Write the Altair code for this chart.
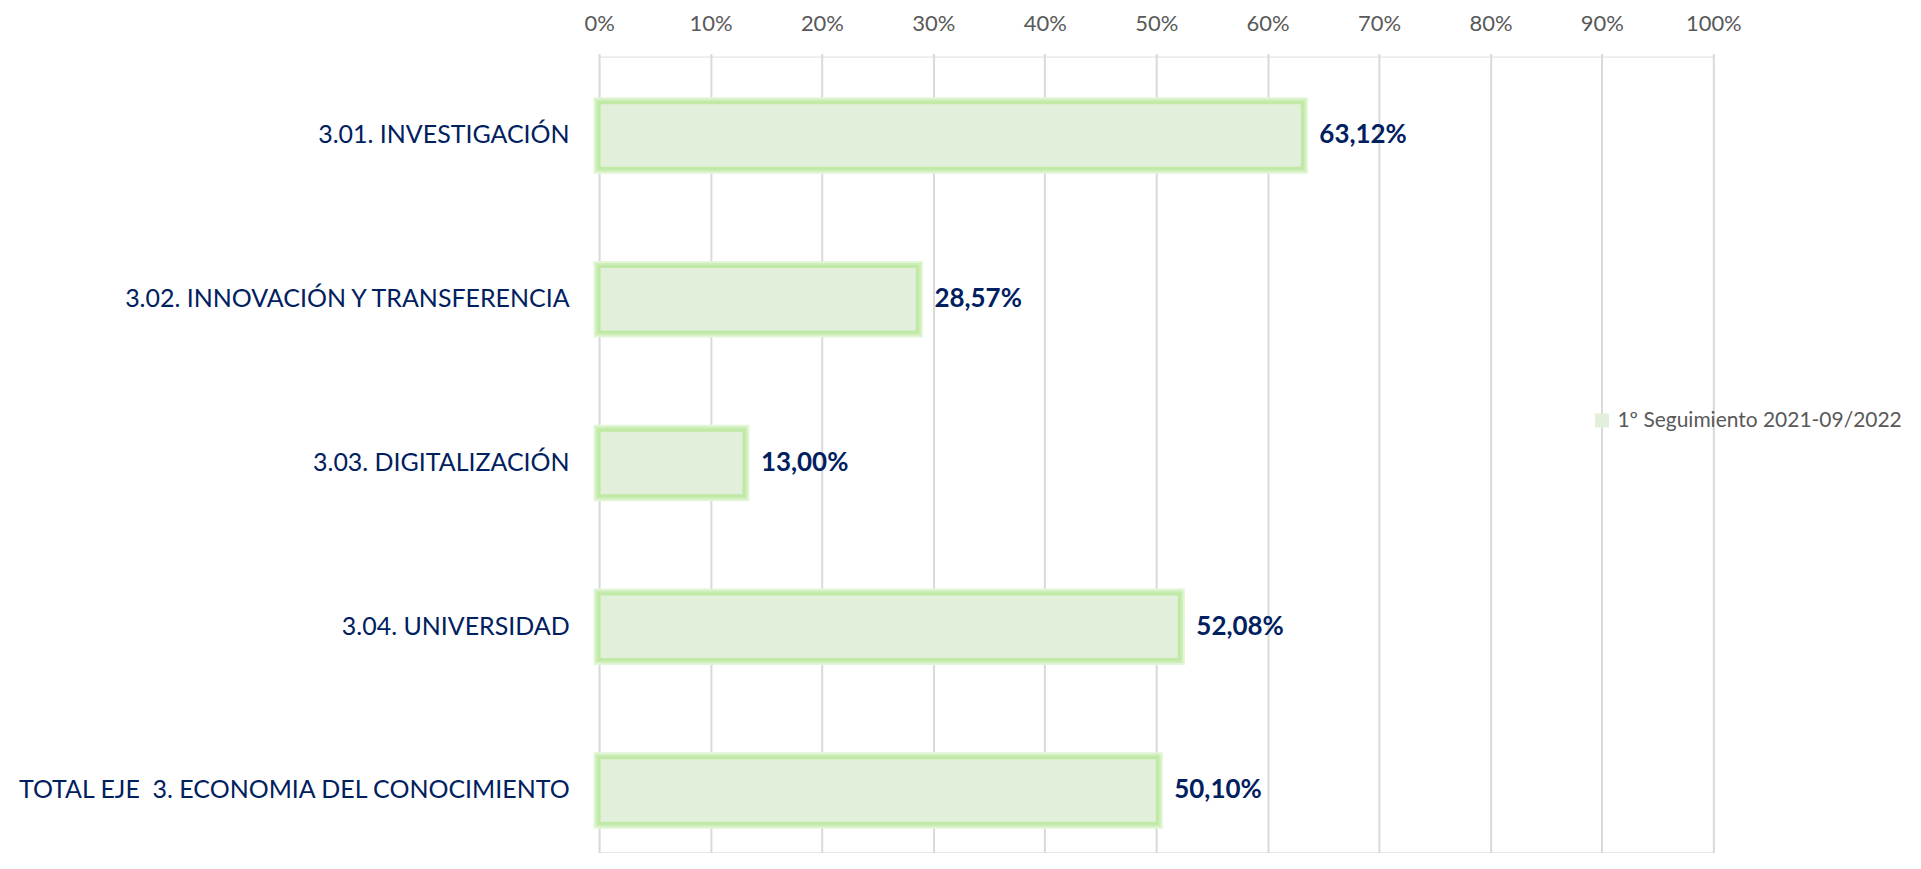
import altair as alt
import pandas as pd

categories = [
    "3.01. INVESTIGACIÓN",
    "3.02. INNOVACIÓN Y TRANSFERENCIA",
    "3.03. DIGITALIZACIÓN",
    "3.04. UNIVERSIDAD",
    "TOTAL EJE \u00a03. ECONOMIA DEL CONOCIMIENTO",
]
values = [0.6312, 0.2857, 0.1300, 0.5208, 0.5010]
series_name = "1º Seguimiento 2021-09/2022"
tick_values = [0, 0.1, 0.2, 0.3, 0.4, 0.5, 0.6, 0.7, 0.8, 0.9, 1.0]

df = pd.DataFrame({
    "cat": categories,
    "val": values,
    "lab": [f"{v * 100:.2f}".replace(".", ",") + "%" for v in values],
    "series": [series_name] * len(categories),
})

NAVY = "#002060"
GRAY = "#595959"

y_enc = alt.Y(
    "cat:N",
    sort=categories,
    title=None,
    scale=alt.Scale(range=[-3, 817], paddingInner=0.6, paddingOuter=0.3),
    axis=alt.Axis(
        domain=False, ticks=False, labelPadding=30,
        labelFont="Lato", labelFontSize=25, labelColor=NAVY, labelLimit=700,
        grid=False,
    ),
)
x_enc = alt.X(
    "val:Q",
    title=None,
    scale=alt.Scale(domain=[0, 1]),
    axis=alt.Axis(
        orient="top", values=tick_values, format=".0%",
        domain=False, ticks=False, tickSize=0, labelPadding=21,
        labelFlush=False,
        labelFont="Lato", labelFontSize=22, labelColor=GRAY,
        grid=True, gridColor="#d9d9d9", gridWidth=2,
    ),
)

base = alt.Chart(df).encode(y=y_enc, x=x_enc)

glow_outer = base.mark_bar(fill="#e2efda", stroke="#e2f5d6", strokeWidth=11)
glow_mid = base.mark_bar(fill="#e2efda", stroke="#cdeeb9", strokeWidth=7)
bars = base.mark_bar(stroke="#c0e9a5", strokeWidth=3).encode(
    color=alt.Color(
        "series:N",
        scale=alt.Scale(range=["#e2efda"]),
        legend=alt.Legend(
            title=None, orient="none", legendX=994, legendY=354,
            symbolType="square", symbolSize=196, symbolStrokeWidth=0,
            labelFont="Lato", labelFontSize=21, labelColor=GRAY,
            labelOffset=5, labelLimit=400,
        ),
    )
)
labels = base.mark_text(
    align="left", baseline="middle", dx=17,
    font="Lato", fontSize=26, fontWeight="bold", color=NAVY,
).encode(text="lab:N")

chart = (
    alt.layer(glow_outer, glow_mid, bars, labels)
    .properties(
        width=1116, height=797,
        autosize=alt.AutoSizeParams(type="none"),
        padding={"left": 592, "top": 48, "right": 200, "bottom": 0},
    )
    .configure_view(stroke=None)
    .configure(background="white")
)

chart.save("out.html", embed_options={"renderer": "svg", "actions": False})
